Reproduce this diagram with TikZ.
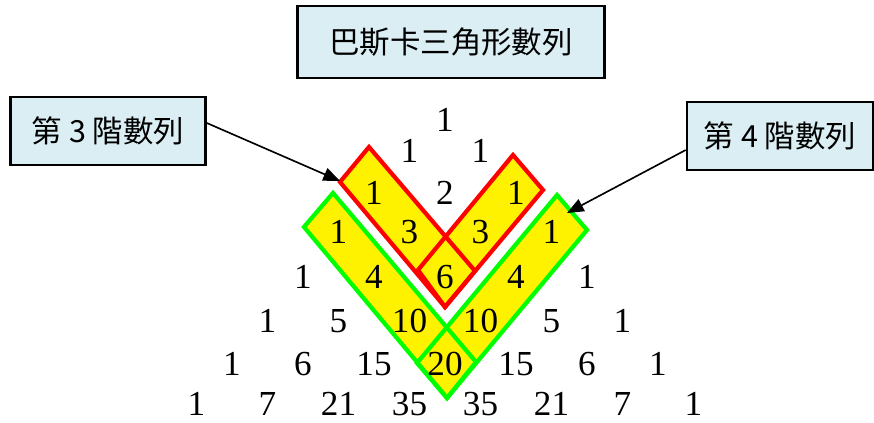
\documentclass[tikz,border=0pt]{standalone}
\usepackage{fontspec}
\setmainfont{Liberation Serif}
\newfontfamily\cjk{Noto Sans CJK TC}
\usepackage{tikz}
\usetikzlibrary{arrows.meta,calc}
\usepackage{xcolor}
\definecolor{boxblue}{HTML}{DAEEF3}

\begin{document}
\begin{tikzpicture}[x=0.03cm, y=-0.03cm,
    box/.style={rectangle, draw=black, line width=2.2pt, fill=boxblue, inner sep=0pt,
                font=\cjk\fontsize{26}{28}\selectfont},
    arr/.style={-{Triangle[length=5mm,width=4mm]}, line width=1.4pt},
    num/.style={font=\fontsize{30}{32}\selectfont, inner sep=0pt},
    band/.style={line width=3.6pt, line join=miter}
]
    \useasboundingbox (0,0) rectangle (874,423);

    % title and labels
    \node[box, minimum width=9.2cm, minimum height=2.16cm] (title) at (451,42) {巴斯卡三角形數列};
    \node[box, minimum width=5.85cm, minimum height=2.04cm] (ord3) at (108,131) {第 3 階數列};
    \node[box, minimum width=5.58cm, minimum height=2.04cm] (ord4) at (780,136) {第 4 階數列};

    % bands: fill first, outlines after
    \fill[yellow] (369,147) -- (340,182) -- (445,307) -- (475,271) -- cycle;
    \fill[yellow] (513,155) -- (543,190) -- (445,307) -- (418,270) -- cycle;
    \fill[yellow] (333,193) -- (304,227) -- (447,398) -- (476,362) -- cycle;
    \fill[yellow] (557,195) -- (587,230) -- (447,398) -- (417,363) -- cycle;
    \draw[band, red] (369,147) -- (340,182) -- (445,307) -- (475,271) -- cycle;
    \draw[band, red] (513,155) -- (543,190) -- (445,307) -- (418,270) -- cycle;
    \draw[band, green] (333,193) -- (304,227) -- (447,398) -- (476,362) -- cycle;
    \draw[band, green] (557,195) -- (587,230) -- (447,398) -- (417,363) -- cycle;

    % pascal rows
    \foreach \n/\y/\vals in {0/120/{1},1/151/{1,1},2/193/{1,2,1},3/232/{1,3,3,1},
                              4/277/{1,4,6,4,1},5/321/{1,5,10,10,5,1},
                              6/364/{1,6,15,20,15,6,1},7/404/{1,7,21,35,35,21,7,1}}
        \foreach \v [count=\k from 0] in \vals
            \node[num] (n\n-\k) at ({445+(2*\k-\n)*35.5},\y) {\v};

    \coordinate (tip3) at (340,181);
    \coordinate (tip4) at (567,213);
    \draw[arr] ($(ord3.east)+(0,-8)$) -- (tip3);
    \draw[arr] ($(ord4.west)+(0,14)$) -- (tip4);
\end{tikzpicture}
\end{document}
